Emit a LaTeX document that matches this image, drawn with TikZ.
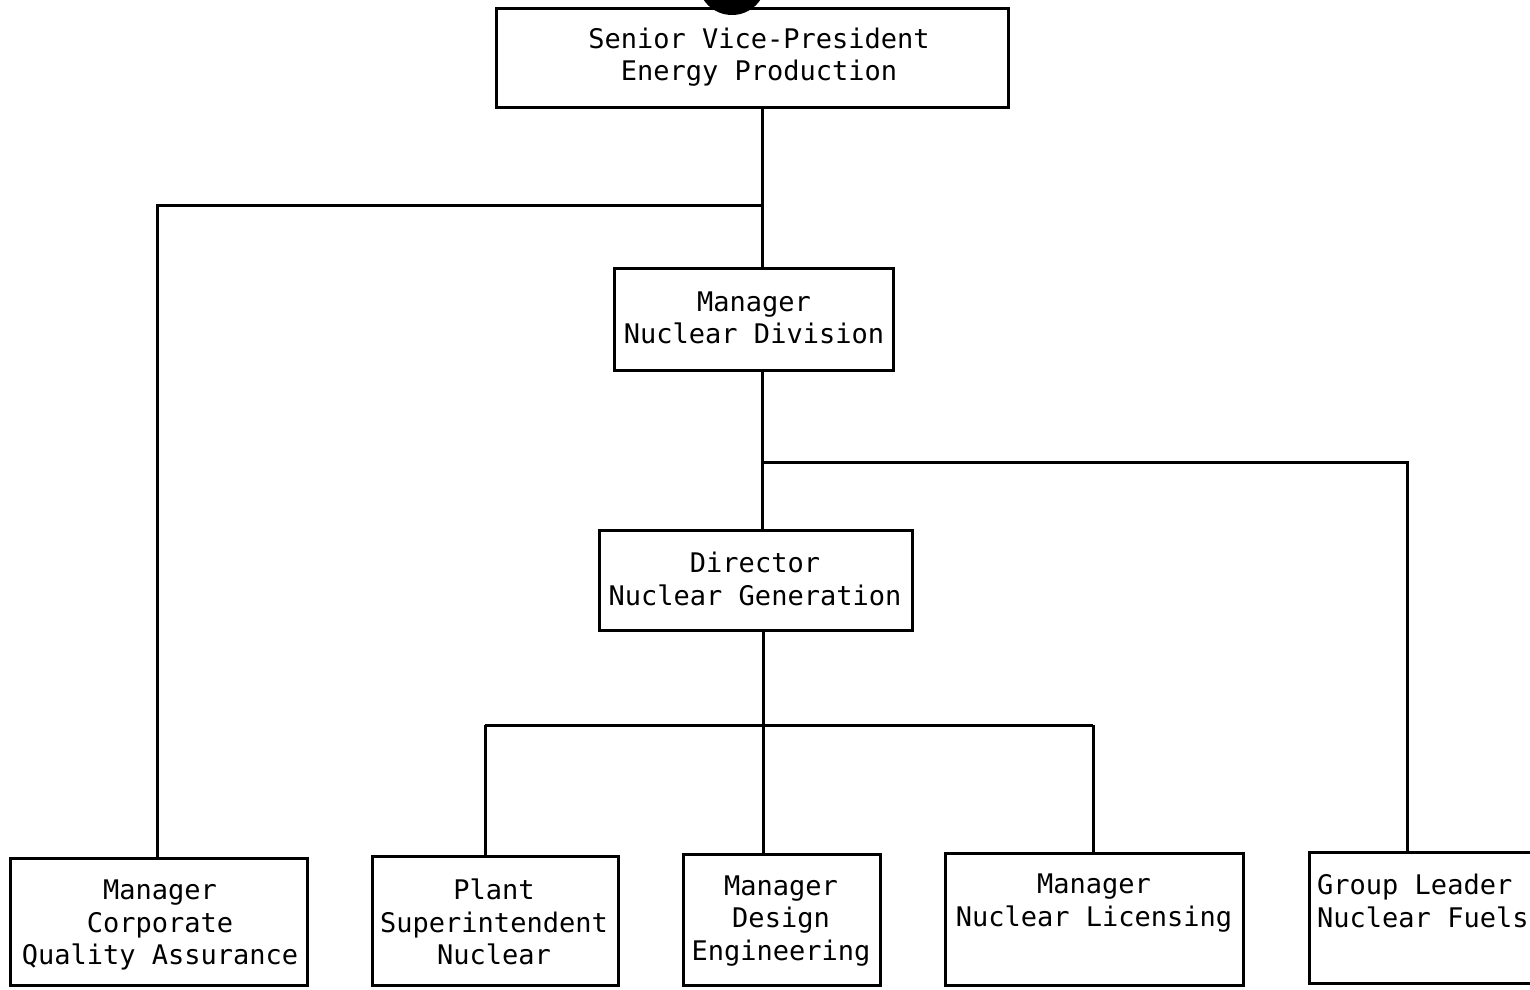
\documentclass[tikz,border=0pt]{standalone}
\usepackage{fontspec}
\newfontfamily\orgfont{DejaVu Sans Mono}
\begin{document}
\begin{tikzpicture}[x=1pt,y=-1pt,
  box/.style={draw,line width=3pt,rectangle,inner sep=0pt},
  lbl/.style={inner sep=0pt,align=center,font=\orgfont\fontsize{27}{32.5}\selectfont},
  lblL/.style={inner sep=0pt,align=left,anchor=west,font=\orgfont\fontsize{27}{32.5}\selectfont},
  conn/.style={line width=3pt}]
\useasboundingbox (0,0) rectangle (1530,989);
\begin{scope}
\clip (0,0) rectangle (1530,989);
% hole punch
\fill (732,-19) circle (34);
% boxes
\node[box,minimum width=512pt,minimum height=99pt] (sv) at (752,58) {};
\node[box,minimum width=279pt,minimum height=102pt] (mnd) at (753.5,319) {};
\node[box,minimum width=313pt,minimum height=100pt] (dng) at (755.5,580) {};
\node[box,minimum width=297pt,minimum height=127pt] (qa) at (158.5,921.5) {};
\node[box,minimum width=246pt,minimum height=129pt] (ps) at (495,920.5) {};
\node[box,minimum width=197pt,minimum height=131pt] (mde) at (781.5,919.5) {};
\node[box,minimum width=298pt,minimum height=132pt] (mnl) at (1094,919) {};
\node[box,minimum width=240pt,minimum height=131pt] (gl) at (1429,917.5) {};
% labels
\node[lbl] (svt) at (759,57) {Senior Vice-President\\Energy Production};
\node[lbl] (mndt) at (754,318) {Manager\\Nuclear Division};
\node[lbl] (dngt) at (755,579) {Director\\Nuclear Generation};
\node[lbl] (qat) at (160,925) {Manager\\Corporate\\Quality Assurance};
\node[lbl] (pst) at (494,922) {Plant\\Superintendent\\Nuclear};
\node[lbl] (mdet) at (781,921) {Manager\\Design\\Engineering};
\node[lbl] (mnlt) at (1094,903) {Manager\\Nuclear Licensing};
\node[lblL] (glt) at (1317,901) {Group Leader\\Nuclear Fuels};
% connectors
\coordinate (trunk) at (762,0);
\coordinate (j1) at (762,205);
\coordinate (j2) at (762,462);
\coordinate (j3) at (763,725);
\draw[conn] (sv.south -| trunk) -- (mnd.north -| trunk);
\draw[conn] (j1) -| (qa.north -| 157,0);
\draw[conn] (mnd.south -| trunk) -- (dng.north -| trunk);
\draw[conn] (j2) -| (gl.north -| 1407,0);
\draw[conn] (dng.south -| j3) -- (mde.north -| j3);
\draw[conn] (485,725) coordinate (j3l) -- (1093,725) coordinate (j3r);
\draw[conn] (j3l) -- (ps.north -| j3l);
\draw[conn] (j3r) -- (mnl.north -| j3r);
\end{scope}
\end{tikzpicture}
\end{document}
